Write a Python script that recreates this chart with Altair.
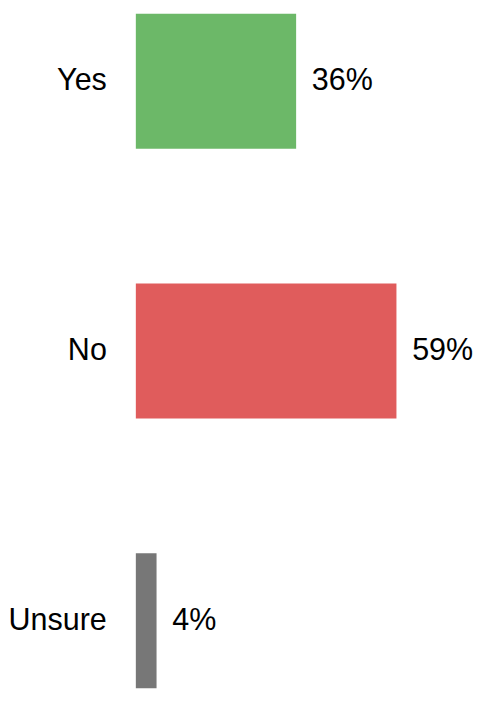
import altair as alt
import pandas as pd

categories = ["Yes", "No", "Unsure"]
values = [36, 59, 4]
labels = ["36%", "59%", "4%"]
colors = ["#6cb868", "#e05c5c", "#777777"]

df = pd.DataFrame({"answer": categories, "value": values, "label": labels})

FONT = "Liberation Sans"
FS = 31

y_enc = alt.Y(
    "answer:N",
    sort=categories,
    scale=alt.Scale(paddingInner=0.5, paddingOuter=0),
    axis=alt.Axis(
        title=None, domain=False, ticks=False, labelFontSize=FS, labelFont=FONT,
        labelColor="black", labelPadding=30, grid=False, labelLimit=300,
    ),
)
x_scale = alt.Scale(domain=[-0.75, 75], nice=False, zero=False)

bars = alt.Chart(df).mark_bar().encode(
    y=y_enc,
    x=alt.X("value:Q", scale=x_scale, axis=None),
    x2=alt.datum(-0.75),
    color=alt.Color("answer:N", scale=alt.Scale(domain=categories, range=colors), legend=None),
)

text = alt.Chart(df).mark_text(
    align="left", baseline="middle", dx=16, fontSize=FS, font=FONT, color="black"
).encode(
    y=alt.Y("answer:N", sort=categories),
    x=alt.X("value:Q", scale=x_scale),
    text="label:N",
)

chart = alt.layer(bars, text).properties(
    width=336,
    height=686,
    autosize=alt.AutoSizeParams(type="none"),
    padding={"left": 130, "top": 0, "right": 14, "bottom": 0},
).configure_view(stroke=None)

chart.save("out.html", embed_options={"renderer": "svg", "actions": False})
